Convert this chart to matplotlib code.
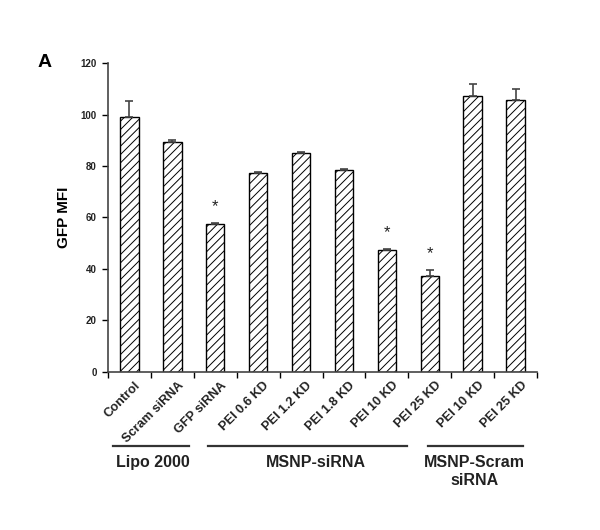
import numpy as np
import matplotlib
matplotlib.use("Agg")
import matplotlib.pyplot as plt
from matplotlib.transforms import blended_transform_factory

plt.rcParams["font.family"] = ["Liberation Sans", "DejaVu Sans"]
plt.rcParams["hatch.linewidth"] = 0.7

# data
labels = ["Control", "Scram siRNA", "GFP siRNA", "PEI 0.6 KD", "PEI 1.2 KD",
          "PEI 1.8 KD", "PEI 10 KD", "PEI 25 KD", "PEI 10 KD", "PEI 25 KD"]
mfi = [99.0, 89.4, 57.3, 77.2, 85.1, 78.3, 47.3, 37.2, 107.3, 105.7]
err = [6.3, 0.9, 0.5, 0.5, 0.5, 0.6, 0.4, 2.4, 4.6, 4.2]
signif = [False, False, True, False, False, False, True, True, False, False]

groups = ["Lipo 2000", "MSNP-siRNA", "MSNP-Scram\nsiRNA"]
# group underline extents and label centers (x in category units)
group_lines = [(-0.38, 1.39), (1.83, 6.47), (6.96, 9.17)]
group_text_x = [0.55, 4.35, 8.04]

fig = plt.figure(figsize=(6.0, 5.3), dpi=100)
ax = fig.add_axes([0.18, 0.2987, 0.715, 0.5819])

x = np.arange(len(labels))
ax.bar(x, mfi, width=0.43, color="white", edgecolor="black", linewidth=1.0,
       hatch="////", zorder=2)
ax.errorbar(x, mfi, yerr=[np.zeros(len(err)), err], fmt="none",
            ecolor="#444444", elinewidth=1.2, capsize=3, capthick=1.2, zorder=3)

for i in x:
  if signif[i]:
    ax.text(i, mfi[i] + err[i] + 6.5, "*", ha="center", va="center",
            fontsize=12, color="#222222")

ax.set_xlim(-0.5, len(labels) - 0.5)
ax.set_ylim(0, 120)
ax.set_yticks(np.arange(0, 121, 20))
ax.set_yticklabels([str(v) for v in range(0, 121, 20)], fontsize=7,
                   fontweight="bold", color="#222222")
ax.tick_params(axis="y", length=4, width=1.0, pad=4)

# category boundary ticks below the axis
ax.set_xticks(np.arange(-0.5, len(labels), 1.0))
ax.set_xticklabels([])
ax.tick_params(axis="x", direction="out", length=4, width=1.0)
for i, lab in enumerate(labels):
  ax.text(i + 0.12, -3.0, lab, rotation=45, rotation_mode="anchor",
          ha="right", va="top", fontsize=9.2, fontweight="bold",
          color="#222222")

for side in ["top", "right"]:
  ax.spines[side].set_visible(False)
ax.spines["left"].set_linewidth(1.2)
ax.spines["bottom"].set_linewidth(1.2)
ax.spines["left"].set_color("#444444")
ax.spines["bottom"].set_color("#444444")

trans = blended_transform_factory(ax.transData, ax.transAxes)
for (x0, x1), xt, g in zip(group_lines, group_text_x, groups):
  ax.plot([x0, x1], [-0.241, -0.241], color="#333333", linewidth=1.6,
          transform=trans, clip_on=False)
  ax.text(xt, -0.27, g, transform=trans, ha="center", va="top",
          fontsize=11.5, fontweight="bold", color="#222222",
          linespacing=1.25)

ax.set_ylabel("GFP MFI", fontsize=11, fontweight="bold", labelpad=7)
fig.text(0.062, 0.883, "A", fontsize=14, fontweight="bold", ha="left",
         va="center")

fig.savefig("out.png", dpi=100)
